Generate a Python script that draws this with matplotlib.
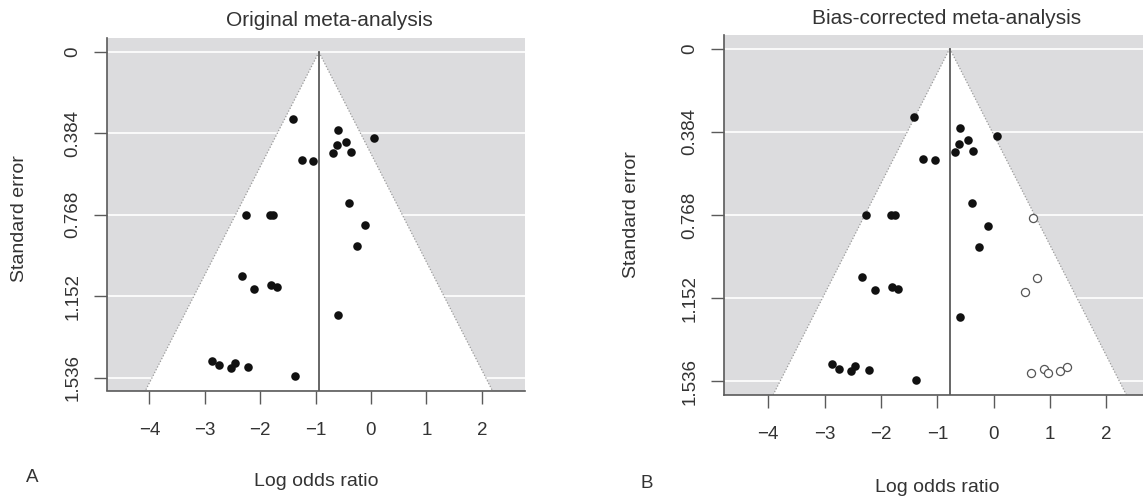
import matplotlib
matplotlib.use("Agg")
import matplotlib.pyplot as plt

plt.rcParams['font.family'] = ['Liberation Sans', 'DejaVu Sans']

# study estimates
log_or = [-1.41, -0.59, 0.05, -0.45, -0.62, -0.69, -0.36, -1.25, -1.05,
          -0.39, -2.26, -1.83, -1.76, -0.10, -0.26, -2.33, -2.11, -1.80,
          -1.70, -0.60, -2.87, -2.75, -2.53, -2.46, -2.22, -1.38]
std_err = [0.316, 0.368, 0.404, 0.424, 0.440, 0.478, 0.472, 0.508, 0.514,
           0.714, 0.770, 0.770, 0.770, 0.818, 0.917, 1.055, 1.116, 1.100,
           1.110, 1.239, 1.456, 1.478, 1.489, 1.467, 1.486, 1.528]

# studies added by trim-and-fill (open circles)
filled_or = [0.70, 0.77, 0.55, 0.66, 0.89, 0.97, 1.18, 1.30]
filled_se = [0.780, 1.060, 1.125, 1.500, 1.478, 1.500, 1.490, 1.470]

pooled_orig = -0.94
pooled_adj = -0.78

se_ticks = [0, 0.384, 0.768, 1.152, 1.536]
se_labels = ["0", "0.384", "0.768", "1.152", "1.536"]
x_ticks = [-4, -3, -2, -1, 0, 1, 2]

W, H = 1143, 501
bg = "#dcdcde"
axcol = "#5a5a5a"
txtcol = "#333333"


def funnel(ax, centre, xlim):
    ymax = 1.597
    ax.set_facecolor(bg)
    ax.set_xlim(xlim)
    ax.set_ylim(ymax, -0.065)
    ax.set_axisbelow(True)
    ax.yaxis.grid(True, color="white", linewidth=1.2)
    ax.xaxis.grid(False)
    # white funnel, 95% limits
    half = 1.96 * ymax
    ax.fill([centre, centre - half, centre + half], [0, ymax, ymax],
            color="white", zorder=1, linewidth=0)
    ax.plot([centre, centre - half], [0, ymax], linestyle=(0, (1, 1.5)),
            color="#9a9a9a", linewidth=0.9, zorder=2)
    ax.plot([centre, centre + half], [0, ymax], linestyle=(0, (1, 1.5)),
            color="#9a9a9a", linewidth=0.9, zorder=2)
    ax.plot([centre, centre], [0, ymax], color=axcol, linewidth=1.3, zorder=2)

    ax.set_yticks(se_ticks)
    ax.set_yticklabels(se_labels, rotation=90, va="center")
    ax.set_xticks(x_ticks)
    ax.set_xticklabels([str(t).replace("-", "\u2212") for t in x_ticks])
    ax.tick_params(axis="both", direction="out", length=9.5, width=1,
                   color=axcol, labelsize=13.5, labelcolor=txtcol)
    ax.tick_params(axis="x", pad=13)
    ax.tick_params(axis="y", pad=9)
    for s in ["top", "right"]:
        ax.spines[s].set_visible(False)
    for s in ["left", "bottom"]:
        ax.spines[s].set_color(axcol)
        ax.spines[s].set_linewidth(1.2)


fig = plt.figure(figsize=(W / 100, H / 100), dpi=100)

axA = fig.add_axes([107.3 / W, 1 - 390.5 / H, (525 - 107.3) / W, (390.5 - 38.3) / H])
funnel(axA, pooled_orig, (-4.76, 2.78))
axA.scatter(log_or, std_err, s=38, color="#111111", zorder=3, linewidths=0)

axB = fig.add_axes([724 / W, 1 - 394.5 / H, (1149 - 724) / W, (394.5 - 34.5) / H])
funnel(axB, pooled_adj, (-4.785, 2.755))
axB.scatter(log_or, std_err, s=38, color="#111111", zorder=3, linewidths=0)
axB.scatter(filled_or, filled_se, s=34, facecolor="white", edgecolor="#555555",
            linewidths=0.9, zorder=3)


def ftext(x, y, s, **kw):
    fig.text(x / W, 1 - y / H, s, color=txtcol, ha="center", va="center", **kw)


ftext(329, 21, "Original meta-analysis", fontsize=15)
ftext(947, 18, "Bias-corrected meta-analysis", fontsize=15)
ftext(19.5, 219, "Standard error", fontsize=14, rotation=90)
ftext(632, 215, "Standard error", fontsize=14, rotation=90)
ftext(316, 481, "Log odds ratio", fontsize=14)
ftext(937, 488, "Log odds ratio", fontsize=14)
ftext(32, 478, "A", fontsize=13.5)
ftext(647, 483, "B", fontsize=13.5)

fig.savefig("out.png", dpi=100)
